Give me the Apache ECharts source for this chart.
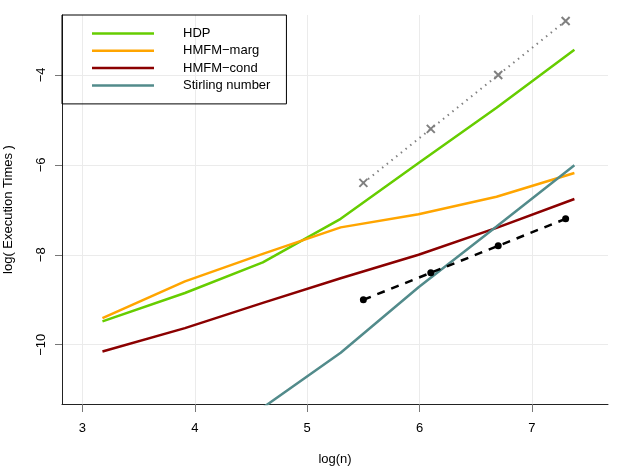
<!DOCTYPE html>
<html>
<head>
<meta charset="utf-8">
<script src="https://cdn.jsdelivr.net/npm/echarts@6/dist/echarts.min.js"></script>
<style>
  html, body { margin: 0; padding: 0; background: #fff; }
  #chart { width: 623px; height: 467px; }
</style>
</head>
<body>
<div id="chart"></div>
<script>
// log(n) for n = 24, 50, 100, 200, 400, 800, 1600
var logN = [3.178, 3.912, 4.605, 5.298, 5.991, 6.685, 7.378]

var hdp = [-9.48, -8.85, -8.17, -7.2, -5.96, -4.73, -3.44]
var hmfmMarg = [-9.41, -8.59, -7.98, -7.39, -7.1, -6.71, -6.18]
var hmfmCond = [-10.15, -9.63, -9.07, -8.52, -8.0, -7.4, -6.76]
// first two points fall below the visible range
var stirling = [null, null, -11.4, -10.18, -8.72, -7.37, -6.01]

// reference slopes
var refX = [5.5, 6.1, 6.7, 7.3]
var refSlope1 = [-9.0, -8.4, -7.8, -7.2]
var refSlope2 = [-6.4, -5.2, -4.0, -2.8]

var xTicks = [3, 4, 5, 6, 7]
var yTicks = [-10, -8, -6, -4]

function pairs(xs, ys) {
  return xs.map(function (x, i) { return [x, ys[i]] })
}

function minus(s) {
  return String(s).replace(/-/g, '\u2212')
}

var font = 'Liberation Sans, Arial, Helvetica, sans-serif'
// plain stroke for the legend keys
var lineIcon = 'path://M0,0L62,0L62,2.5L0,2.5Z'

function mainLine(name, data, color) {
  return {
    name: name,
    type: 'line',
    data: pairs(logN, data),
    symbol: 'none',
    lineStyle: { color: color, width: 2.5 },
    itemStyle: { color: color },
    connectNulls: false
  }
}

var chart = echarts.init(document.getElementById('chart'))

var option = {
  backgroundColor: '#fff',
  animation: false,
  textStyle: { fontFamily: font },
  grid: { left: 62, right: 15, top: 15, bottom: 63, outerBoundsMode: 'none', containLabel: false },
  legend: {
    orient: 'vertical',
    left: 62,
    top: 15,
    padding: [12, 16, 12, 30],
    itemWidth: 62,
    itemHeight: 14,
    itemGap: 4.3,
    borderColor: '#000',
    borderWidth: 1,
    borderRadius: 0,
    backgroundColor: 'transparent',
    data: [
      { name: 'HDP', icon: lineIcon },
      { name: 'HMFM-marg', icon: lineIcon },
      { name: 'HMFM-cond', icon: lineIcon },
      { name: 'Stirling number', icon: lineIcon }
    ],
    formatter: function (name) { return minus(name) },
    textStyle: {
      fontFamily: font,
      fontSize: 13,
      color: '#000',
      padding: [0, 0, 0, 24]
    }
  },
  xAxis: {
    type: 'value',
    min: 2.818,
    max: 7.677,
    name: 'log(n)',
    nameLocation: 'middle',
    nameGap: 49,
    nameTextStyle: { fontFamily: font, fontSize: 13, color: '#000' },
    axisLine: { show: true, onZero: false, lineStyle: { color: '#222', width: 1 } },
    axisTick: { show: true, length: 8, customValues: xTicks, lineStyle: { color: '#777', width: 1 } },
    axisLabel: {
      customValues: xTicks,
      margin: 18,
      fontFamily: font,
      fontSize: 13,
      color: '#000'
    },
    splitLine: { show: true, lineStyle: { color: '#ebebeb', width: 1 } }
  },
  yAxis: {
    type: 'value',
    min: -11.318,
    max: -2.667,
    name: 'log( Execution Times )',
    nameLocation: 'middle',
    nameGap: 47,
    nameTextStyle: { fontFamily: font, fontSize: 13, color: '#000' },
    axisLine: { show: true, onZero: false, lineStyle: { color: '#222', width: 1 } },
    axisTick: { show: true, length: 7, customValues: yTicks, lineStyle: { color: '#777', width: 1 } },
    axisLabel: {
      customValues: yTicks,
      rotate: 90,
      margin: 14,
      fontFamily: font,
      fontSize: 13,
      color: '#000',
      formatter: function (v) { return minus(v) }
    },
    splitLine: { show: true, lineStyle: { color: '#ebebeb', width: 1 } }
  },
  series: [
    mainLine('HDP', hdp, '#66cd00'),
    mainLine('HMFM-marg', hmfmMarg, '#ffa500'),
    mainLine('HMFM-cond', hmfmCond, '#8b0000'),
    mainLine('Stirling number', stirling, '#528b8b'),
    {
      name: 'slope 2',
      type: 'line',
      data: pairs(refX, refSlope2),
      symbol: 'path://M0,0L10,10M10,0L0,10',
      symbolSize: 8,
      lineStyle: { color: '#808080', width: 2, type: [1.5, 4.5] },
      itemStyle: { color: 'transparent', borderColor: '#808080', borderWidth: 2 }
    },
    {
      name: 'slope 1',
      type: 'line',
      data: pairs(refX, refSlope1),
      symbol: 'circle',
      symbolSize: 7,
      lineStyle: { color: '#000', width: 2.5, type: [8, 7] },
      itemStyle: { color: '#000' }
    }
  ]
}

chart.setOption(option)
</script>
</body>
</html>
